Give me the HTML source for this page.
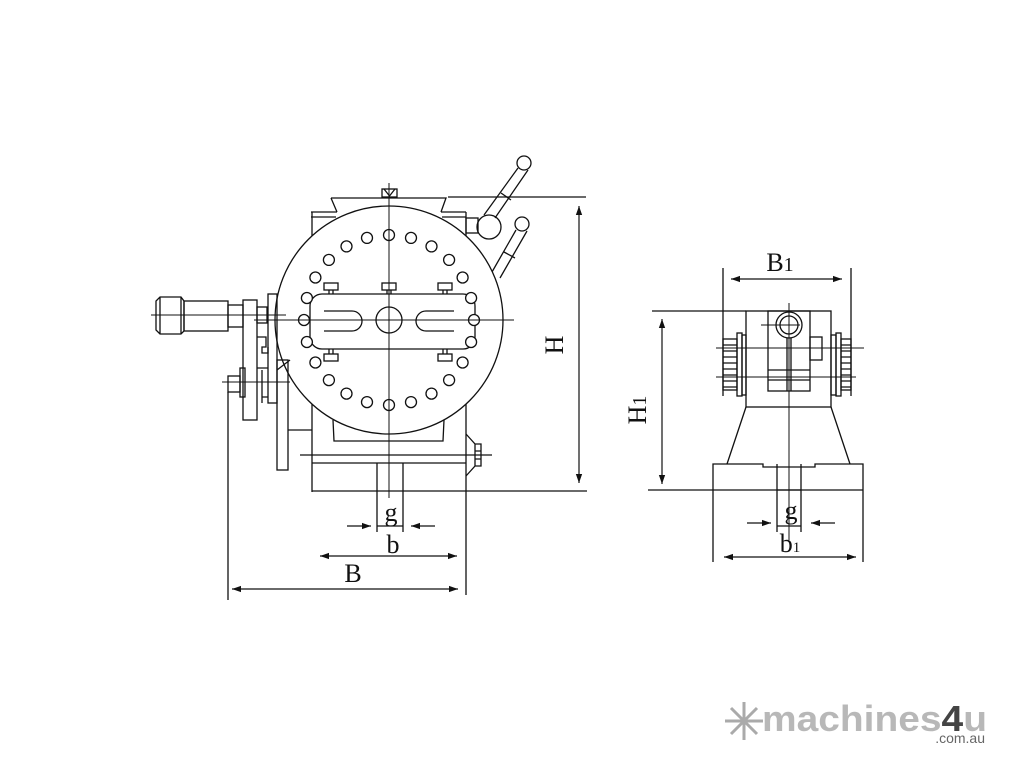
<!DOCTYPE html>
<html><head><meta charset="utf-8"><style>
html,body{margin:0;padding:0;background:#fff;}
svg{display:block}
text{font-family:"Liberation Serif",serif;fill:#111}
</style></head><body>
<svg width="1024" height="768" viewBox="0 0 1024 768" xmlns="http://www.w3.org/2000/svg">
<defs>
<marker id="ar" viewBox="0 0 10 10" refX="10" refY="5" markerWidth="9" markerHeight="9" orient="auto-start-reverse" markerUnits="userSpaceOnUse"><path d="M0,1.5 L10,5 L0,8.5 z" fill="#111"/></marker>
</defs>
<g stroke="#111" stroke-width="1.3" fill="none">
<path d="M312,212 V492 M466,212 V595 M311,212 H337 M441,212 H466 M311,217 H336 M442,217 H466"/>
<path d="M331,198 H446 L441,212 M331,198 L337,212"/>
<rect x="382" y="189" width="15" height="8"/>
<path d="M384,189 L389.5,196 L395,189"/>
<line x1="448" y1="197" x2="586" y2="197"/>
<circle cx="389" cy="320" r="114" fill="#fff"/>
<rect x="310" y="294" width="165" height="55" rx="12"/>
<path d="M324,311 H352 A10,10 0 0 1 352,331 H324"/>
<path d="M454,311 H426 A10,10 0 0 0 426,331 H454"/>
<circle cx="389" cy="320" r="13"/>
<rect x="324" y="283" width="14" height="7"/><path d="M329,290 V294 M333,290 V294"/>
<rect x="382" y="283" width="14" height="7"/><path d="M387,290 V294 M391,290 V294"/>
<rect x="438" y="283" width="14" height="7"/><path d="M443,290 V294 M447,290 V294"/>
<rect x="324" y="354" width="14" height="7"/><path d="M329,349 V354 M333,349 V354"/>
<rect x="438" y="354" width="14" height="7"/><path d="M443,349 V354 M447,349 V354"/>
<path d="M333,420 L334,441 H443 L444,420"/>
<path d="M300,455 H492 M312,463 H466 M312,491 H587"/>
<path d="M377,463 V532 M403,463 V532 M377,526 H403"/>
<path d="M466,434 L475,444 V466 L466,476 M475,444 H481 V466 H475 M475,451 H481 M475,459 H481"/>
<rect x="466" y="218" width="12" height="15"/>
<circle cx="489" cy="227" r="12"/>
<circle cx="524" cy="163" r="7"/>
<path d="M484,215 L518,168 M495,218 L528,170 M501,193 L511,200"/>
<circle cx="522" cy="224" r="7"/>
<path d="M492,272 L516,230 M500,278 L527,231 M504,252 L515,258"/>
<path d="M160,297 H181 L184,301 V331 L181,334 H160 L156,330 V301 Z M160,297 V334 M181,297 V334"/>
<rect x="184" y="301" width="44" height="30"/>
<rect x="228" y="305" width="15" height="22"/>
<rect x="243" y="300" width="14" height="120"/>
<rect x="257" y="307" width="10" height="16"/>
<rect x="268" y="294" width="9" height="109"/>
<rect x="277" y="360" width="11" height="110"/>
<path d="M257,337 L266,337 V347 L262,347 V353 L268,353 V347"/>
<path d="M257,368 H268 M262,397 H268 M262,370 V403"/>
<path d="M288,430 H312"/>
<rect x="228" y="376" width="12" height="16"/>
<rect x="240" y="368" width="5" height="29"/>
<path d="M228,392 V600"/>
<path d="M277,370 L290,360"/>
</g>
<g stroke="#111" stroke-width="1" fill="none">
<path d="M389,183 V498 M151,315 H286 M254,320 H514 M222,382 H290 M476,455 H492"/>
</g>
<g stroke="#111" stroke-width="1.2" fill="none">
<line x1="579" y1="206" x2="579" y2="483" marker-start="url(#ar)" marker-end="url(#ar)"/>
<line x1="320" y1="556" x2="457" y2="556" marker-start="url(#ar)" marker-end="url(#ar)"/>
<line x1="232" y1="589" x2="458" y2="589" marker-start="url(#ar)" marker-end="url(#ar)"/>
<line x1="347" y1="526" x2="371" y2="526" marker-end="url(#ar)"/>
<line x1="435" y1="526" x2="411" y2="526" marker-end="url(#ar)"/>
</g>
<text x="391" y="521" font-size="26" text-anchor="middle">g</text>
<text x="393" y="553" font-size="26" text-anchor="middle">b</text>
<text x="353" y="582" font-size="26" text-anchor="middle">B</text>
<text transform="translate(563,345) rotate(-90)" font-size="26" text-anchor="middle">H</text>

<g stroke="#111" stroke-width="1.3" fill="none">
<rect x="746" y="311" width="85" height="96"/>
<rect x="768" y="311" width="42" height="80"/>
<circle cx="789" cy="325" r="13"/><circle cx="789" cy="325" r="9"/>
<path d="M787,338 V391 M791,338 V391 M768,370 H810 M768,380 H810"/>
<rect x="810" y="337" width="12" height="23"/>
<path d="M746,407 L727,464 M831,407 L850,464"/>
<path d="M713,562 V464 H763 V467 H815 V464 H863 V562"/>
<path d="M777,464 V532 M801,464 V532 M777,490 H801 M777,526 H801"/>
<rect x="737" y="333" width="5" height="63"/><rect x="742" y="335" width="4" height="60"/>
<rect x="723" y="339" width="14" height="51"/>
<path d="M723,345 H737 M723,351 H737 M723,357 H737 M723,363 H737 M723,369 H737 M723,375 H737 M723,381 H737 M723,387 H737"/>
<rect x="836" y="333" width="5" height="63"/><rect x="831" y="335" width="5" height="60"/>
<rect x="841" y="339" width="10" height="51"/>
<path d="M841,345 H851 M841,351 H851 M841,357 H851 M841,363 H851 M841,369 H851 M841,375 H851 M841,381 H851 M841,387 H851"/>
<path d="M723,268 V396 M851,268 V396"/>
<path d="M652,311 H746 M648,490 H863"/>
</g>
<g stroke="#111" stroke-width="1" fill="none">
<path d="M789,303 V540 M716,348 H864 M716,377 H856 M761,325 H800"/>
</g>
<g stroke="#111" stroke-width="1.2" fill="none">
<line x1="662" y1="319" x2="662" y2="484" marker-start="url(#ar)" marker-end="url(#ar)"/>
<line x1="731" y1="279" x2="842" y2="279" marker-start="url(#ar)" marker-end="url(#ar)"/>
<line x1="724" y1="557" x2="856" y2="557" marker-start="url(#ar)" marker-end="url(#ar)"/>
<line x1="747" y1="523" x2="771" y2="523" marker-end="url(#ar)"/>
<line x1="835" y1="523" x2="811" y2="523" marker-end="url(#ar)"/>
</g>
<text x="791" y="519" font-size="26" text-anchor="middle">g</text>
<text x="790" y="552" font-size="26" text-anchor="middle">b<tspan font-size="15">1</tspan></text>
<text x="780" y="271" font-size="26" text-anchor="middle">B<tspan font-size="20">1</tspan></text>
<text transform="translate(646,410) rotate(-90)" font-size="26" text-anchor="middle">H<tspan font-size="20">1</tspan></text>

<g stroke="#111" stroke-width="1.3" fill="#fff">
<circle cx="389.0" cy="235.0" r="5.5"/><circle cx="411.0" cy="237.9" r="5.5"/><circle cx="431.5" cy="246.4" r="5.5"/><circle cx="449.1" cy="259.9" r="5.5"/><circle cx="462.6" cy="277.5" r="5.5"/><circle cx="471.1" cy="298.0" r="5.5"/><circle cx="474.0" cy="320.0" r="5.5"/><circle cx="471.1" cy="342.0" r="5.5"/><circle cx="462.6" cy="362.5" r="5.5"/><circle cx="449.1" cy="380.1" r="5.5"/><circle cx="431.5" cy="393.6" r="5.5"/><circle cx="411.0" cy="402.1" r="5.5"/><circle cx="389.0" cy="405.0" r="5.5"/><circle cx="367.0" cy="402.1" r="5.5"/><circle cx="346.5" cy="393.6" r="5.5"/><circle cx="328.9" cy="380.1" r="5.5"/><circle cx="315.4" cy="362.5" r="5.5"/><circle cx="306.9" cy="342.0" r="5.5"/><circle cx="304.0" cy="320.0" r="5.5"/><circle cx="306.9" cy="298.0" r="5.5"/><circle cx="315.4" cy="277.5" r="5.5"/><circle cx="328.9" cy="259.9" r="5.5"/><circle cx="346.5" cy="246.4" r="5.5"/><circle cx="367.0" cy="237.9" r="5.5"/>
</g>
<g stroke="#111" stroke-width="1" fill="none"><path d="M389,228 V412 M298,320 H480"/></g>

<g stroke="#aaa" stroke-width="3" fill="none">
<path d="M744,702 V740 M725,721 H763 M731,708 L757,734 M757,708 L731,734"/>
</g>
<text x="762" y="731" font-size="36" font-weight="bold" style="font-family:'Liberation Sans',sans-serif;fill:#b8b8b8" textLength="225" lengthAdjust="spacingAndGlyphs">machines<tspan style="fill:#444">4</tspan>u</text>
<text x="985" y="743" font-size="14" text-anchor="end" style="font-family:'Liberation Sans',sans-serif;fill:#666">.com.au</text>
</svg>
</body></html>
